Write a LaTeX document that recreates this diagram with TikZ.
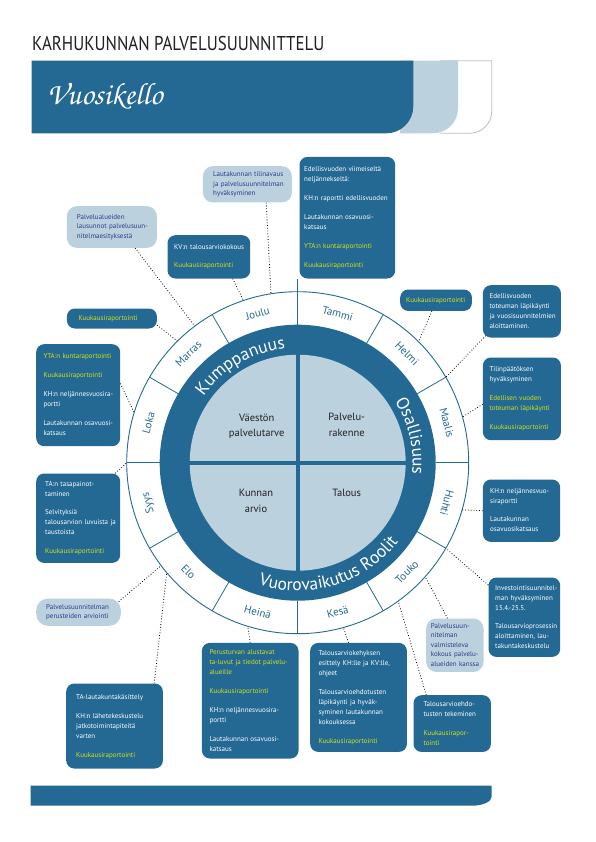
\documentclass[tikz,border=0pt]{standalone}
\usepackage{fontspec}
\setmainfont{PT Sans}
\newfontfamily\headfont[FakeStretch=0.845]{PT Sans}
\newfontfamily\chorusfont{TeX Gyre Chorus}
\usepackage{xcolor}
\usetikzlibrary{decorations.text}
\definecolor{kbblue}{RGB}{36,105,148}
\definecolor{kblight}{RGB}{188,209,222}
\definecolor{kbyellow}{RGB}{214,226,20}
\definecolor{kbnavy}{RGB}{42,58,138}
\definecolor{kbgray}{RGB}{190,190,190}
\definecolor{kbtext}{RGB}{35,31,32}
\newcommand{\kelt}[1]{\textcolor{kbyellow}{#1}}
\newcommand{\boxlines}[1]{\noindent\begin{tabular}{@{}l@{}}#1\end{tabular}}
\newcommand{\ringfont}{\fontsize{17.5}{17.5}\selectfont\color{white}}

\begin{document}
\begin{tikzpicture}[x=1pt,y=1pt,
    darkbox/.style={fill=kbblue,text=white,rounded corners=8pt,anchor=north west,
      align=left,inner ysep=0pt,font=\fontsize{7}{10}\selectfont},
    lightbox/.style={fill=kblight,text=kbnavy,rounded corners=10pt,anchor=north west,
      align=left,inner ysep=0pt,font=\fontsize{7}{9.5}\selectfont},
    month/.style={text=kbblue,font=\fontsize{11}{11}\selectfont},
    quad/.style={text=kbtext,align=center,font=\fontsize{10.5}{15.5}\selectfont},
    ringline/.style={kbblue,line width=0.8pt},
    conn/.style={dotted,line width=0.8pt}]
  \useasboundingbox (0,0) rectangle (595,-842);
  \fill[white] (0,0) rectangle (595,-842);

  % header
  \node[anchor=base west,inner sep=0pt,text=kbtext,font=\headfont\fontsize{20}{20}\selectfont]
    (title) at (32,-50.7) {KARHUKUNNAN PALVELUSUUNNITTELU};
  \draw[kbgray,fill=white,line width=0.8pt] (440,-60.7) -- (491.7,-60.7) -- (491.7,-111.3)
    arc[start angle=0,end angle=-90,radius=22] -- (440,-133.3);
  \fill[kblight] (400,-60.7) -- (458,-60.7) -- (458,-108.3)
    arc[start angle=0,end angle=-90,radius=25] -- (400,-133.3) -- cycle;
  \fill[kbblue] (31.7,-60.7) -- (413.3,-60.7) -- (413.3,-106.3)
    arc[start angle=0,end angle=-90,radius=27] -- (31.7,-133.3) -- cycle;
  \node[anchor=base west,inner sep=0pt,text=white,font=\chorusfont\fontsize{31}{31}\selectfont]
    (banner) at (47,-104.5) {Vuosikello};

  % footer
  \fill[kbblue] (30.7,-785.7) -- (491.7,-785.7) -- (491.7,-796.7)
    arc[start angle=0,end angle=-90,x radius=20,y radius=9] -- (30.7,-805.7) -- cycle;

  % the wheel
  \begin{scope}[shift={(297.7,-462.7)}]
    \fill[kbblue] (0,0) circle[radius=138];
    \fill[kblight] (0,0) circle[radius=108];
    \draw[kbblue,line width=4.3pt] (-109,0) -- (109,0) (0,-109) -- (0,109);
    \draw[kbblue,line width=0.9pt] (0,0) circle[radius=171];
    \foreach \a in {0,30,60,120,150,180,210,240,270,300,330}
      \draw[ringline] (\a:138) -- (\a:171);
    \draw[ringline] (90:138) -- (90:184);
    \foreach \m/\a/\r [count=\i] in {Tammi/75/-15,Helmi/45/-45,Maalis/15/-75,
        Huhti/-15/-105,Touko/-45/45,Kesä/-75/15,Heinä/-105/-15,Elo/-135/-45,
        Syys/-165/105,Loka/165/75,Marras/135/45,Joulu/105/15}
      \node[month,rotate=\r] (m\i) at (\a:154.5) {\m};
    \path[decorate,decoration={text along path,text align=center,
        text={|\ringfont|Kumppanuus}}]
      (160.5:115) arc[start angle=160.5,end angle=80.5,radius=115];
    \path[decorate,decoration={text along path,text align=center,
        text={|\ringfont|Osallisuus}}]
      (53.3:115) arc[start angle=53.3,end angle=-26.7,radius=115];
    \path[decorate,decoration={text along path,text align=center,
        text={|\ringfont|Vuorovaikutus Roolit}}]
      (-133:128) arc[start angle=-133,end angle=-13,radius=128];
    % ends of the connectors on the rim
    \coordinate (e-tilin) at (99:171);
    \coordinate (e-kv) at (108.5:171);
    \coordinate (e-laus) at (127:171);
    \coordinate (e-kuul) at (134.7:171);
    \coordinate (e-kuur) at (45:171);
    \coordinate (e-edtot) at (30:171);
    \coordinate (e-tilinp) at (15.5:171);
    \coordinate (e-yta) at (163:171);
    \coordinate (e-ta) at (180:171);
    \coordinate (e-arv) at (-143:171);
    \coordinate (e-talak) at (-140:171);
    \coordinate (e-perus) at (-107:171);
    \coordinate (e-kehys) at (-74.5:171);
    \coordinate (e-ehdot) at (-54:171);
    \coordinate (e-valm) at (-41.8:171);
    \coordinate (e-invest) at (-30:171);
    \coordinate (e-khr) at (-16:171);
  \end{scope}
  \node[quad] (q1) at (256.7,-426.3) {Väestön\\palvelutarve};
  \node[quad] (q2) at (346.7,-425) {Palvelu-\\rakenne};
  \node[quad] (q3) at (256,-501) {Kunnan\\arvio};
  \node[quad] (q4) at (346.7,-493.3) {Talous};

  % boxes round the wheel
  \node[lightbox,inner xsep=10.3pt,text width=68.4pt,minimum height=36.3pt] (tilin) at (202.7,-166)
    {\boxlines{Lautakunnan tilinavaus\\ja palvelusuunnitelman\\hyväksyminen}};
  \node[darkbox,inner xsep=4.7pt,text width=86.3pt,minimum height=121.6pt] (edell) at (299.3,-156.7)
    {\boxlines{Edellisvuoden viimeiseltä\\neljännekseltä:\\[9pt]KH:n raportti edellisvuoden\\[9pt]
      Lautakunnan osavuosi-\\katsaus\\[9pt]\kelt{YTA:n kuntaraportointi}\\[9pt]\kelt{Kuukausiraportointi}}};
  \node[darkbox,inner xsep=6.7pt,text width=69.3pt,minimum height=43.3pt] (kvbox) at (167.3,-235)
    {\boxlines{KV:n talousarviokokous\\[8pt]\kelt{Kuukausiraportointi}}};
  \node[lightbox,inner xsep=10pt,text width=70pt,minimum height=41.7pt] (lausunnot) at (66.7,-206)
    {\boxlines{Palvelualueiden\\lausunnot palvelusuun-\\nitelmaesityksestä}};
  \node[darkbox,inner xsep=11.6pt,text width=66.8pt,minimum height=20pt] (kuul) at (66.7,-308.3)
    {\boxlines{\kelt{Kuukausiraportointi}}};
  \node[darkbox,inner xsep=6pt,text width=59.7pt,minimum height=21.4pt] (kuur) at (400,-289.3)
    {\boxlines{\kelt{Kuukausiraportointi}}};
  \node[darkbox,inner xsep=6.6pt,text width=64.8pt,minimum height=52.3pt] (edtot) at (482.7,-285)
    {\boxlines{Edellisvuoden\\toteuman läpikäynti\\ja vuosisuunnitelmien\\aloittaminen.}};
  \node[darkbox,inner xsep=6.6pt,text width=64.8pt,minimum height=82.7pt] (tilinp) at (482.7,-357.3)
    {\boxlines{Tilinpäätöksen\\hyväksyminen\\[9pt]\kelt{Edellisen vuoden}\\\kelt{toteuman läpikäynti}\\[9pt]
      \kelt{Kuukausiraportointi}}};
  \node[darkbox,inner xsep=7.3pt,text width=69.4pt,minimum height=102pt] (ytal) at (36,-344)
    {\boxlines{\kelt{YTA:n kuntaraportointi}\\[9pt]\kelt{Kuukausiraportointi}\\[9pt]
      KH:n neljännesvuosira-\\portti\\[9pt]Lautakunnan osavuosi-\\katsaus}};
  \node[darkbox,inner xsep=9pt,text width=66pt,minimum height=89.4pt] (tal) at (36,-473.3)
    {\boxlines{TA:n tasapainot-\\taminen\\[8pt]Selvityksiä\\talousarvion luvuista ja\\taustoista\\[9pt]
      \kelt{Kuukausiraportointi}}};
  \node[lightbox,rounded corners=12pt,inner xsep=10pt,text width=64.7pt,minimum height=27.4pt]
    (arviointi) at (36,-598.3)
    {\boxlines{Palvelusuunnitelman\\perusteiden arviointi}};
  \node[darkbox,inner xsep=10pt,text width=76.7pt,minimum height=85pt] (talak) at (66,-683.3)
    {\boxlines{TA-lautakuntakäsittely\\[9pt]KH:n lähetekeskustelu\\jatkotoimintapiteitä\\varten\\[9pt]
      \kelt{Kuukausiraportointi}}};
  \node[darkbox,inner xsep=7.6pt,text width=81.4pt,minimum height=115.6pt] (perus) at (201.7,-642.7)
    {\boxlines{\kelt{Perusturvan alustavat}\\\kelt{ta-luvut ja tiedot palvelu-}\\\kelt{alueille}\\[9pt]
      \kelt{Kuukausiraportointi}\\[9pt]KH:n neljännesvuosira-\\portti\\[9pt]Lautakunnan osavuosi-\\katsaus}};
  \node[darkbox,inner xsep=8.3pt,text width=80.1pt,minimum height=109pt] (kehys) at (310,-642.7)
    {\boxlines{Talousarviokehyksen\\esittely KH:lle ja KV:lle,\\ohjeet\\[9pt]Talousarvioehdotusten\\
      läpikäynti ja hyväk-\\syminen lautakunnan\\kokouksessa\\[9pt]\kelt{Kuukausiraportointi}}};
  \node[lightbox,inner xsep=4.7pt,text width=47.9pt,minimum height=53.4pt] (valm) at (426,-618.3)
    {\boxlines{Palvelusuun-\\nitelman\\valmisteleva\\kokous palvelu-\\alueiden kanssa}};
  \node[darkbox,inner xsep=10pt,text width=57.4pt,minimum height=56.7pt] (ehdot) at (413.3,-695)
    {\boxlines{Talousarvioehdo-\\tusten tekeminen\\[9pt]\kelt{Kuukausirapor-}\\\kelt{tointi}}};
  \node[darkbox,inner xsep=6.7pt,text width=58.3pt,minimum height=79.4pt] (invest) at (488.3,-577.3)
    {\boxlines{Investointisuunnitel-\\man hyväksyminen\\15.4.-25.5.\\[8pt]Talousarvioprosessin\\
      aloittaminen, lau-\\takuntakeskustelu}};
  \node[darkbox,inner xsep=7.3pt,text width=62.7pt,minimum height=62.4pt] (khr) at (482.7,-479.3)
    {\boxlines{KH:n neljännesvuo-\\siraportti\\[8pt]Lautakunnan\\osavuosikatsaus}};

  % connectors
  \draw[conn] ([xshift=18.8pt]tilin.south) -- (e-tilin);
  \draw[conn] ([xshift=23.85pt]kvbox.south) -- (e-kv);
  \draw[conn] ([xshift=23.3pt]lausunnot.south) -- (e-laus);
  \draw[conn] ([yshift=-6.7pt]kuul.east) -- (e-kuul);
  \draw[conn] ([xshift=-4.2pt]kuur.south) -- (e-kuur);
  \draw[conn] ([xshift=3pt,yshift=2pt]edtot.south west) -- (e-edtot);
  \draw[conn] ([yshift=-5.35pt]tilinp.west) -- (e-tilinp);
  \draw[conn] ([yshift=11.7pt]ytal.east) -- (e-yta);
  \draw[conn] ([xshift=37pt]tal.north) -- (e-ta);
  \draw[conn] ([xshift=-2.4pt,yshift=-3.4pt]arviointi.north east) -- (e-arv);
  \draw[conn] ([xshift=39.65pt]talak.north) -- (e-talak);
  \draw[conn] (perus.north) -- (e-perus);
  \draw[conn] ([xshift=-10pt]kehys.north) -- (e-kehys);
  \draw[conn] ([xshift=-26pt]ehdot.north) -- (e-ehdot);
  \draw[conn] ([xshift=-7.35pt]valm.north) -- (e-valm);
  \draw[conn] ([yshift=-7.7pt]invest.north west) -- (e-invest);
  \draw[conn] (khr.west) -- (e-khr);
\end{tikzpicture}
\end{document}
